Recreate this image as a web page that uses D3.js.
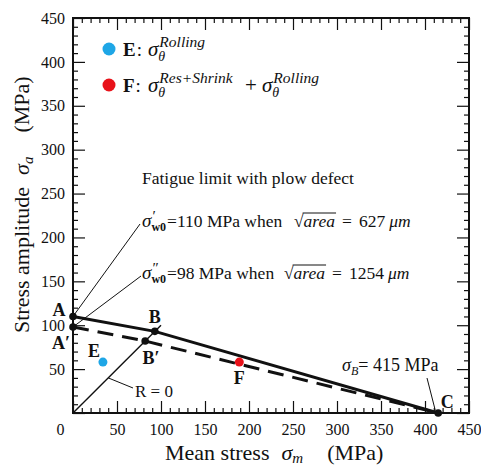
<!DOCTYPE html>
<html>
<head>
<meta charset="utf-8">
<script src="https://cdn.jsdelivr.net/npm/d3@7/dist/d3.min.js"></script>
<style>
body { margin: 0; background: #fff; }
text { font-family: 'Liberation Serif', 'Times New Roman', serif; fill: #111; }
.axis path { display: none; }
.axis line { stroke: #111; stroke-width: 1.2; }
</style>
</head>
<body>
<svg></svg>
<script>

    // Data
    var pointNames = ['A', 'A\u2032', 'B', 'B\u2032', 'C'];
    var pointMean  = [0, 0, 93, 82, 415];
    var pointAmp   = [110, 98, 93, 82, 0];

    var solidMean = [0, 93, 415];      // A - B - C
    var solidAmp  = [110, 93, 0];
    var dashMean  = [0, 82, 415];      // A' - B' - C
    var dashAmp   = [98, 82, 0];
    var rzeroMean = [0, 100];          // R = 0 line
    var rzeroAmp  = [0, 100];

    var testNames  = ['E', 'F'];
    var testMean   = [34, 189];
    var testAmp    = [58, 58];
    var testColors = ['#1ea6e6', '#e8121a'];

    var majorTicks = [0, 50, 100, 150, 200, 250, 300, 350, 400, 450];
    var minorTicks = d3.range(0, 451, 10).filter(function (v) { return v % 50 !== 0; });

    // Sizes
    var vWidth = 481, vHeight = 465;
    var pLeft = 73, pRight = 469, pTop = 18, pBottom = 413;

    var svg = d3.select('svg').attr('width', vWidth).attr('height', vHeight);

    var x = d3.scaleLinear().domain([0, 450]).range([pLeft, pRight]);
    var y = d3.scaleLinear().domain([0, 450]).range([pBottom, pTop]);

    // Axes: ticks point inward on all four sides
    function addAxis(axisFn, scale, tx, ty, size, values, labels, pad) {
        var a = axisFn(scale).tickValues(values).tickSize(-size).tickPadding(pad || 0);
        if (!labels) a.tickFormat('');
        return svg.append('g').attr('class', 'axis')
            .attr('transform', 'translate(' + tx + ',' + ty + ')')
            .call(a);
    }
    var xb = addAxis(d3.axisBottom, x, 0, pBottom, 12, majorTicks, true, 11);
    addAxis(d3.axisBottom, x, 0, pBottom, 5, minorTicks, false);
    addAxis(d3.axisTop, x, 0, pTop, 12, majorTicks, false);
    addAxis(d3.axisTop, x, 0, pTop, 5, minorTicks, false);
    var yl = addAxis(d3.axisLeft, y, pLeft, 0, 12, majorTicks, true, 8);
    addAxis(d3.axisLeft, y, pLeft, 0, 5, minorTicks, false);
    addAxis(d3.axisRight, y, pRight, 0, 12, majorTicks, false);
    addAxis(d3.axisRight, y, pRight, 0, 5, minorTicks, false);

    xb.selectAll('text').style('font-size', '16px').style('font-family', "'Liberation Serif', serif")
        .attr('dx', function (d) { return d === 0 ? -13 : 0; });
    yl.selectAll('text').style('font-size', '16px').style('font-family', "'Liberation Serif', serif")
        .attr('display', function (d) { return d === 0 ? 'none' : null; });

    svg.append('rect')
        .attr('x', pLeft).attr('y', pTop)
        .attr('width', pRight - pLeft).attr('height', pBottom - pTop)
        .attr('fill', 'none').attr('stroke', '#111').attr('stroke-width', 2);

    // Lines
    var line = d3.line().x(function (d) { return x(d[0]); }).y(function (d) { return y(d[1]); });

    svg.append('path').datum(d3.zip(rzeroMean, rzeroAmp))
        .attr('d', line).attr('fill', 'none').attr('stroke', '#111').attr('stroke-width', 1.4);
    svg.append('path').datum(d3.zip(dashMean, dashAmp))
        .attr('d', line).attr('fill', 'none').attr('stroke', '#111').attr('stroke-width', 3)
        .attr('stroke-dasharray', '16,9');
    svg.append('path').datum(d3.zip(solidMean, solidAmp))
        .attr('d', line).attr('fill', 'none').attr('stroke', '#111').attr('stroke-width', 3);

    // Leader lines
    function leader(x1, y1, x2, y2) {
        svg.append('line').attr('x1', x1).attr('y1', y1).attr('x2', x2).attr('y2', y2)
            .attr('stroke', '#111').attr('stroke-width', 1);
    }
    leader(x(0), y(110), 140, 224);
    leader(x(0), y(98), 141, 276);
    leader(x(40), y(40), 133, 388);
    leader(x(415) - 3, y(0) - 3, 427, 378);

    // Marked points
    var labelOff = [[-14, -7], [-12, 16], [0, -15], [6, 17], [9, -11]];
    pointNames.forEach(function (n, i) {
        svg.append('circle').attr('cx', x(pointMean[i])).attr('cy', y(pointAmp[i])).attr('r', 3.8).attr('fill', '#111');
        svg.append('text').attr('x', x(pointMean[i]) + labelOff[i][0]).attr('y', y(pointAmp[i]) + labelOff[i][1])
            .attr('text-anchor', 'middle').attr('dy', '0.35em')
            .style('font-size', '18px').style('font-weight', 'bold').text(n);
    });

    var testOff = [[-9, -11], [0, 16]];
    testNames.forEach(function (n, i) {
        svg.append('circle').attr('cx', x(testMean[i])).attr('cy', y(testAmp[i])).attr('r', 4.5).attr('fill', testColors[i]);
        svg.append('text').attr('x', x(testMean[i]) + testOff[i][0]).attr('y', y(testAmp[i]) + testOff[i][1])
            .attr('text-anchor', 'middle').attr('dy', '0.35em')
            .style('font-size', '18px').style('font-weight', 'bold').text(n);
    });

    // Rich text helper: pieces laid out left to right, measured as they go
    // (ax = absolute x, dx = gap before, stay = do not advance)
    function rich(parent, x0, y0, pieces) {
        var cx = x0;
        pieces.forEach(function (p) {
            if (p.ax !== undefined) cx = p.ax;
            var px = cx + (p.dx || 0);
            var t = parent.append('text')
                .attr('x', px).attr('y', y0 + (p.dy || 0))
                .style('font-size', p.size + 'px')
                .style('font-style', p.it ? 'italic' : null)
                .style('font-weight', p.b ? 'bold' : null)
                .text(p.t);
            var w = t.node().getComputedTextLength();
            if (p.over) {
                parent.append('line').attr('x1', px - 1).attr('x2', px + w + 1)
                    .attr('y1', y0 - p.size * 0.8).attr('y2', y0 - p.size * 0.8)
                    .attr('stroke', '#111').attr('stroke-width', 1);
            }
            if (!p.stay) cx = px + w;
        });
        return cx - x0;
    }

    // Legend
    var lg = svg.append('g');
    lg.append('circle').attr('cx', 109).attr('cy', 49).attr('r', 6.5).attr('fill', testColors[0]);
    lg.append('circle').attr('cx', 109).attr('cy', 85).attr('r', 6.5).attr('fill', testColors[1]);
    rich(lg, 123, 56, [
        {t: 'E', size: 19, b: true}, {t: ':', size: 19, dx: 1},
        {t: '\u03c3', size: 21, it: true, ax: 148},
        {t: '\u03b8', size: 14, it: true, dy: 5, stay: true},
        {t: 'Rolling', size: 15.5, it: true, dy: -9, dx: 1}
    ]);
    rich(lg, 123, 92, [
        {t: 'F', size: 19, b: true}, {t: ':', size: 19, dx: 1},
        {t: '\u03c3', size: 21, it: true, ax: 148},
        {t: '\u03b8', size: 14, it: true, dy: 5, stay: true},
        {t: 'Res+Shrink', size: 15.5, it: true, dy: -9, dx: 1},
        {t: '+', size: 21, ax: 245},
        {t: '\u03c3', size: 21, it: true, ax: 262},
        {t: '\u03b8', size: 14, it: true, dy: 5, stay: true},
        {t: 'Rolling', size: 15.5, it: true, dy: -9, dx: 1}
    ]);

    // Annotations
    var ann = svg.append('g');
    ann.append('text').attr('x', 142).attr('y', 184).style('font-size', '17.5px').text('Fatigue limit with plow defect');
    rich(ann, 142, 227, [
        {t: '\u03c3', size: 19, it: true},
        {t: '\u2032', size: 15, dy: -6, stay: true, dx: 1},
        {t: 'w0', size: 12, b: true, dy: 4},
        {t: '=110 MPa when', size: 17.5, dx: 1},
        {t: '\u221a', size: 17.5, ax: 294},
        {t: 'area', size: 17.5, it: true, over: true},
        {t: '=', size: 17.5, dx: 7},
        {t: '627', size: 17.5, dx: 7},
        {t: '\u03bcm', size: 17.5, it: true, dx: 4}
    ]);
    rich(ann, 142, 279, [
        {t: '\u03c3', size: 19, it: true},
        {t: '\u2033', size: 15, dy: -6, stay: true, dx: 1},
        {t: 'w0', size: 12, b: true, dy: 4},
        {t: '=98 MPa when', size: 17.5, dx: 1},
        {t: '\u221a', size: 17.5, ax: 284},
        {t: 'area', size: 17.5, it: true, over: true},
        {t: '=', size: 17.5, dx: 7},
        {t: '1254', size: 17.5, dx: 7},
        {t: '\u03bcm', size: 17.5, it: true, dx: 4}
    ]);
    ann.append('text').attr('x', 135).attr('y', 397).style('font-size', '17px').text('R = 0');
    rich(ann, 342, 371, [
        {t: '\u03c3', size: 18, it: true},
        {t: 'B', size: 12, it: true, dy: 4},
        {t: '= 415 MPa', size: 18}
    ]);

    // Axis titles
    var xt = svg.append('g').attr('transform', 'translate(165,460)');
    rich(xt, 0, 0, [
        {t: 'Mean stress', size: 22},
        {t: '\u03c3', size: 22, it: true, dx: 12},
        {t: 'm', size: 15, it: true, dy: 3},
        {t: '(MPa)', size: 22, dx: 24}
    ]);

    var yt = svg.append('g').attr('transform', 'translate(29,333) rotate(-90)');
    rich(yt, 0, 0, [
        {t: 'Stress amplitude', size: 22},
        {t: '\u03c3', size: 22, it: true, dx: 12},
        {t: 'a', size: 15, it: true, dy: 4},
        {t: '(MPa)', size: 22, dx: 24}
    ]);

</script>
</body>
</html>
